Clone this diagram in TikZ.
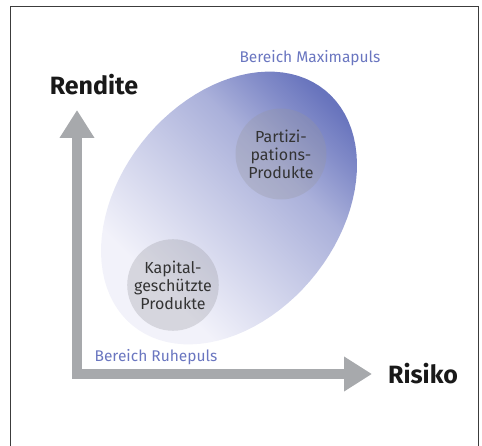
\documentclass[tikz,border=0pt]{standalone}
\usepackage{fontspec}
\setmainfont{Fira Sans}
\usetikzlibrary{arrows.meta}
\definecolor{achsengrau}{RGB}{167,169,172}
\definecolor{dunkelblau}{RGB}{104,116,189}
\definecolor{hellblau}{RGB}{242,242,250}
\colorlet{blauA}{dunkelblau!32!hellblau}
\colorlet{blauB}{dunkelblau!52!hellblau}
\colorlet{blauC}{dunkelblau!80!hellblau}
\definecolor{bereichblau}{RGB}{106,118,192}
\definecolor{kreisgrau}{RGB}{150,150,158}
\definecolor{rahmengrau}{RGB}{60,60,60}
\pgfdeclareverticalshading{verlauf}{100bp}{color(0bp)=(hellblau); color(30bp)=(hellblau);
	color(50bp)=(blauA); color(62bp)=(blauB); color(71bp)=(blauC);
	color(78bp)=(dunkelblau); color(100bp)=(dunkelblau)}

\begin{document}
\begin{tikzpicture}[x=1pt, y=-1pt,
	achse/.style={line width=10pt, color=achsengrau, line join=miter,
		arrows={Triangle[width=33pt,length=28pt]-Triangle[width=33pt,length=28pt]}},
	achsentext/.style={font=\fontsize{25}{30}\selectfont\bfseries, text=black!90},
	bereich/.style={font=\fontsize{15.5}{18}\selectfont, text=bereichblau},
	produkt/.style={circle, minimum size=91pt, inner sep=0pt, fill=kreisgrau,
		fill opacity=0.3, text opacity=1, text=black!80, align=center,
		font=\fontsize{16}{18}\selectfont}
	]
	\useasboundingbox (0,0) rectangle (482,446);
	
	% Rahmen (unten offen)
	\draw[rahmengrau, line width=0.9pt] (10,446) -- (10,6) -- (478,6) -- (478,446);
	
	% Bereich
	\shade[shading=verlauf, shading angle=-45]
		plot[domain=0:360, samples=91, variable=\t]
		({229+152*cos(\t)*cos(50.7)-109*sin(\t)*sin(50.7)},
		 {208-152*cos(\t)*sin(50.7)-109*sin(\t)*cos(50.7)}) -- cycle;
	
	% Achsen
	\coordinate (ytop) at (77,110);
	\coordinate (xend) at (372,374);
	\draw[achse] (ytop) |- (xend);
	
	\node[achsentext] (rendite) at (94,85) {Rendite};
	\node[achsentext] (risiko) at (423,374) {Risiko};
	
	\node[bereich] (maxi) at (310,58) {Bereich Maximapuls};
	\node[bereich] (ruhe) at (156,357) {Bereich Ruhepuls};
	
	\node[produkt] (partizip) at (281,154) {Partizi-\\pations-\\Produkte};
	\node[produkt] (kapital) at (173,285) {Kapital-\\geschützte\\Produkte};
\end{tikzpicture}
\end{document}
